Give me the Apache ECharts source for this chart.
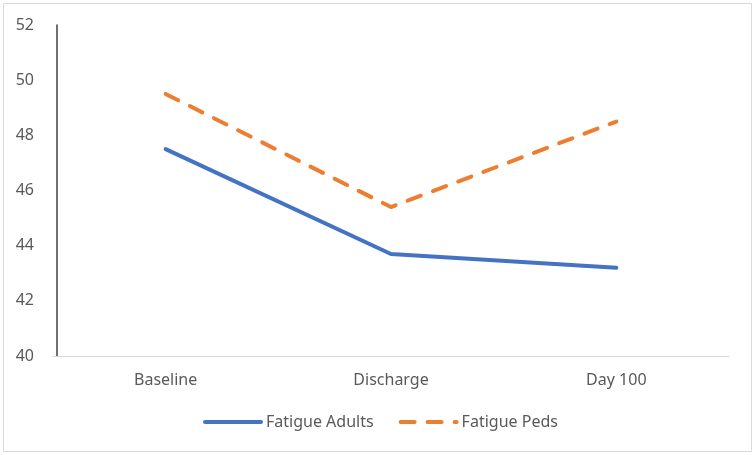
<!DOCTYPE html>
<html>
<head>
<meta charset="utf-8">
<script src="https://cdn.jsdelivr.net/npm/echarts@6/dist/echarts.min.js"></script>
<style>
  html, body { margin: 0; padding: 0; background: #fff; }
  #main { width: 755px; height: 455px; }
</style>
</head>
<body>
<div id="main"></div>
<script>
// 数据
const categories = ['Baseline', 'Discharge', 'Day 100'];
const fatigueAdults = [47.5, 43.7, 43.2];
const fatiguePeds = [49.5, 45.4, 48.5];

const chart = echarts.init(document.getElementById('main'));

const font = '"Noto Sans", sans-serif';

chart.setOption({
  animation: false,
  textStyle: { fontFamily: font },
  graphic: [{
    type: 'rect',
    shape: { x: 3.5, y: 3.5, width: 748, height: 448 },
    style: { fill: 'none', stroke: '#d9d9d9', lineWidth: 1 },
    silent: true
  }],
  grid: { left: 53, right: 26, top: 25, bottom: 99 },
  legend: {
    bottom: 25,
    left: 203,
    padding: 0,
    itemWidth: 56,
    itemHeight: 14,
    itemGap: 25,
    itemStyle: { opacity: 0 },
    lineStyle: { width: 4, cap: 'round' },
    textStyle: { color: '#595959', fontSize: 16, fontFamily: font },
    data: ['Fatigue Adults', 'Fatigue Peds']
  },
  xAxis: {
    type: 'category',
    data: categories,
    boundaryGap: true,
    axisLine: { lineStyle: { color: '#d9d9d9', width: 1 } },
    axisTick: { show: false },
    axisLabel: { color: '#595959', fontSize: 16, margin: 16 }
  },
  yAxis: {
    type: 'value',
    min: 40,
    max: 52,
    interval: 2,
    offset: -4,
    axisLine: { show: true, lineStyle: { color: '#404040', width: 1.5 } },
    axisTick: { show: false },
    splitLine: { show: false },
    axisLabel: { color: '#595959', fontSize: 16, margin: 23 }
  },
  series: [{
    name: 'Fatigue Adults',
    type: 'line',
    data: fatigueAdults,
    symbol: 'none',
    itemStyle: { color: '#4472c4' },
    lineStyle: { color: '#4472c4', width: 4, cap: 'round', join: 'round' }
  }, {
    name: 'Fatigue Peds',
    type: 'line',
    data: fatiguePeds,
    symbol: 'none',
    itemStyle: { color: '#ed7d31' },
    lineStyle: { color: '#ed7d31', width: 4, type: [14, 13], cap: 'round', join: 'round' }
  }]
});
</script>
</body>
</html>
